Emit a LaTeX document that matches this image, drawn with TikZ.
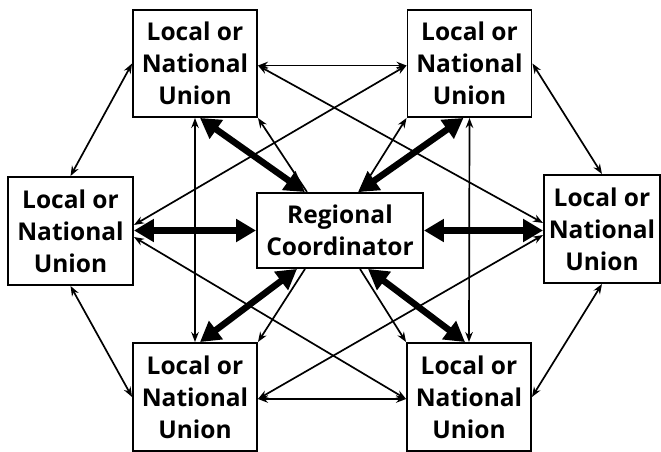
\documentclass[tikz,border=0pt]{standalone}
\usepackage{fontspec}
\setmainfont{Open Sans}
\usetikzlibrary{arrows.meta}
\begin{document}
\begin{tikzpicture}[x=1pt,y=-1pt,
  unionbox/.style={draw,line width=1.9pt,fill=white,inner sep=0pt,align=center,
    font=\bfseries\fontsize{24.5}{32}\selectfont,minimum width=124pt,minimum height=107pt},
  thinlink/.style={line width=1.7pt,{Stealth[length=10pt,width=7.5pt]}-{Stealth[length=10pt,width=7.5pt]}},
  thinone/.style={line width=1.7pt,-{Stealth[length=10pt,width=7.5pt]}},
  thicklink/.style={line width=6.5pt,{Triangle[length=20pt,width=22pt]}-{Triangle[length=20pt,width=22pt]}}]
\useasboundingbox (0,0) rectangle (661,452);
\node[unionbox] (TL) at (195,63.5) {Local or\\National\\Union};
\node[unionbox] (TR) at (469.5,63.5) {Local or\\National\\Union};
\node[unionbox,minimum width=125pt,minimum height=108pt] (L) at (70.5,231) {Local or\\National\\Union};
\node[unionbox,minimum width=116pt,minimum height=108pt] (R) at (602,229) {Local or\\National\\Union};
\node[unionbox,minimum height=108pt] (BL) at (195,397) {Local or\\National\\Union};
\node[unionbox,minimum height=108pt] (BR) at (469,397) {Local or\\National\\Union};
\node[unionbox,minimum width=166pt,minimum height=75pt] (C) at (340,230.5) {Regional\\Coordinator};
% thick links to the coordinator
\draw[thicklink] ([xshift=5pt]TL.south) -- ([xshift=-35pt]C.north);
\draw[thicklink] ([xshift=-6pt]TR.south) -- ([xshift=18pt]C.north);
\draw[thicklink] (C.west -| L.east) -- (C.west);
\draw[thicklink] (C.east) -- (C.east -| R.west);
\draw[thicklink] ([xshift=-43pt]C.south) -- ([xshift=5pt]BL.north);
\draw[thicklink] ([xshift=28pt]C.south) -- ([xshift=-4pt]BR.north);
% thin single arrows from the coordinator
\draw[thinone] ([xshift=-33pt]C.north) -- (TL.south east);
\draw[thinone] ([xshift=20pt]C.north) -- (TR.south west);
\draw[thinone] ([xshift=-35pt]C.south) -- (BL.north east);
\draw[thinone] ([xshift=20pt]C.south) -- (BR.north west);
% ring
\draw[thinlink] (TL.west) -- (L.north);
\draw[thinlink] ([yshift=-2pt]TL.east) -- ([yshift=-2pt]TR.west);
\draw[thinlink] (TR.east) -- (R.north);
\draw[thinlink] (L.south) -- (BL.west);
\draw[thinlink] ([yshift=-2pt]BL.east) -- ([yshift=-2pt]BR.west);
\draw[thinlink] (R.south) -- (BR.east);
% verticals
\draw[thinlink] (TL.south) -- (BL.north);
\draw[thinlink] (TR.south) -- (BR.north);
% diagonals
\draw[thinlink] ([yshift=6pt]L.east) -- ([yshift=-2pt]TR.west);
\draw[thinlink] ([yshift=-2pt]TL.east) -- ([yshift=6pt]R.west);
\draw[thinlink] ([yshift=-6pt]L.east) -- ([yshift=-2pt]BR.west);
\draw[thinlink] ([yshift=-6pt]R.west) -- ([yshift=-2pt]BL.east);
\end{tikzpicture}
\end{document}
